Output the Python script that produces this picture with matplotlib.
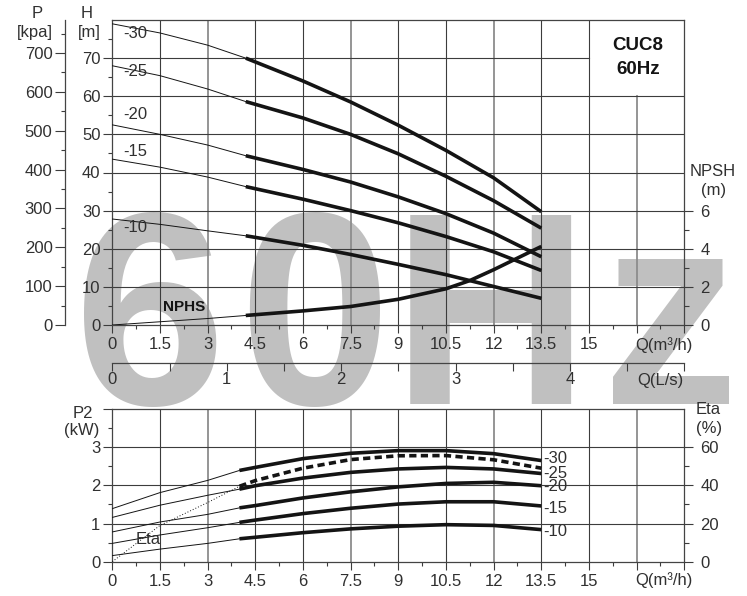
import numpy as np
import matplotlib.pyplot as plt
from matplotlib.ticker import FixedLocator, FuncFormatter

plt.rcParams['font.family'] = ['Liberation Sans', 'DejaVu Sans']

# ---- top chart: head H (m) and NPSH (m) vs flow Q (m3/h)
q_top = [0, 1.5, 3, 4.2, 6, 7.5, 9, 10.5, 12, 13.5]
h_30 = [79.0, 76.6, 73.4, 70.0, 64.0, 58.5, 52.4, 45.8, 38.6, 29.7]
h_25 = [68.0, 65.4, 61.9, 58.6, 54.3, 50.0, 44.9, 39.0, 32.6, 25.4]
h_20 = [52.5, 50.0, 47.2, 44.4, 40.8, 37.5, 33.6, 29.2, 24.1, 17.9]
h_15 = [43.5, 41.4, 38.8, 36.3, 33.0, 30.0, 26.8, 23.2, 19.2, 14.3]
h_10 = [27.8, 26.4, 24.7, 23.4, 20.9, 18.5, 15.9, 13.2, 10.1, 7.0]
q_npsh = [0, 1.5, 3, 4.2, 6, 7.5, 9, 10.5, 11.25, 12, 13.5]
npsh = [0, 0.17, 0.34, 0.5, 0.74, 0.97, 1.35, 1.9, 2.33, 2.9, 4.12]
stages = ['-30', '-25', '-20', '-15', '-10']

# ---- bottom chart: shaft power P2 (kW) and efficiency (%)
q_bot = [0, 1.5, 3, 4, 4.5, 6, 7.5, 9, 10.5, 12, 13.5]
p_30 = [1.39, 1.81, 2.13, 2.39, 2.47, 2.70, 2.84, 2.91, 2.91, 2.83, 2.65]
p_25 = [1.16, 1.48, 1.74, 1.90, 1.99, 2.19, 2.34, 2.43, 2.47, 2.43, 2.31]
p_20 = [0.78, 1.04, 1.24, 1.41, 1.47, 1.67, 1.83, 1.96, 2.05, 2.08, 1.99]
p_15 = [0.48, 0.70, 0.89, 1.03, 1.09, 1.26, 1.40, 1.51, 1.57, 1.57, 1.46]
p_10 = [0.16, 0.33, 0.48, 0.60, 0.64, 0.76, 0.86, 0.93, 0.97, 0.95, 0.84]
eta = [0, 19, 31, 39.5, 42.5, 49, 53.5, 55.5, 55.6, 53.4, 49]

q_labels = ['0', '1.5', '3', '4.5', '6', '7.5', '9', '10.5', '12', '13.5', '15', '', '']

W, H = 747, 596
ink = '#141414'
dark = '#3c3c3c'
light = '#8c8c8c'
txt = '#303030'


def fx(px):
    return px / W


def fy(py):
    return 1 - py / H


fig = plt.figure(figsize=(W / 100, H / 100), dpi=100)

# watermark behind everything
for ch, cx in zip('60Hz', [150, 314, 491, 670]):
    fig.text(fx(cx), fy(404), ch, fontsize=197, fontweight='bold',
             color='#c0c0c0', ha='center', va='baseline', zorder=-5)

x0, x1 = 112.3, 684.3
ax = fig.add_axes([fx(x0), fy(325), (x1 - x0) / W, (325 - 20) / H])
axb = fig.add_axes([fx(x0), fy(561.7), (x1 - x0) / W, (561.7 - 409) / H])

for a in (ax, axb):
    a.set_facecolor('none')
    a.set_xlim(0, 18)
    for s in a.spines.values():
        s.set_color('#444444')
        s.set_linewidth(0.9)
    a.xaxis.set_major_locator(FixedLocator(np.arange(0, 18.1, 1.5)))
    a.xaxis.set_major_formatter(FuncFormatter(lambda v, p: q_labels[int(round(v / 1.5))]))
    a.xaxis.set_minor_locator(FixedLocator(np.arange(0.75, 18, 1.5)))
    a.tick_params(axis='x', which='major', direction='out', length=5.5, width=0.8,
                  pad=3, labelsize=12, color=dark, labelcolor=txt)
    a.tick_params(axis='x', which='minor', direction='out', length=3, width=0.8, color=dark)
    a.tick_params(axis='y', which='major', direction='out', length=6.5, width=0.8,
                  pad=2, labelsize=12, color=dark, labelcolor=txt)
    a.tick_params(axis='y', which='minor', direction='out', length=3, width=0.8, color=dark)
    for i, g in enumerate(np.arange(1.5, 17, 1.5)):
        c, lw = (light, 1.3) if i % 3 == 1 else (dark, 0.8)
        top = 0.75 if (a is ax and g > 16) else 1
        a.axvline(g, ymax=top, color=c, lw=lw, zorder=1)

# ---- top chart
ax.set_ylim(0, 80)
ax.yaxis.set_major_locator(FixedLocator(range(0, 71, 10)))
ax.yaxis.set_minor_locator(FixedLocator(range(5, 80, 10)))
for h in range(10, 71, 10):
    ax.axhline(h, xmax=15 / 18 if h == 70 else 1, color=dark, lw=0.8, zorder=1)

for vals in [h_30, h_25, h_20, h_15, h_10]:
    ax.plot(q_top[:4], vals[:4], color=ink, lw=0.7, zorder=3)
    ax.plot(q_top[3:], vals[3:], color=ink, lw=2.6, zorder=3, solid_capstyle='butt')

for lab, hy in zip(stages, [76.4, 66.4, 55.1, 45.4, 25.5]):
    ax.text(0.34, hy, lab, fontsize=12, color=txt, va='center', ha='left')
ax.text(1.6, 4.7, 'NPHS', fontsize=11, fontweight='bold', color=ink, va='center', ha='left')
ax.text(16.54, 73.3, 'CUC8', fontsize=13.5, fontweight='bold', color=ink, ha='center', va='center')
ax.text(16.54, 66.9, '60Hz', fontsize=13.5, fontweight='bold', color=ink, ha='center', va='center')

# pressure axis (kPa) left of head axis
sec = ax.secondary_yaxis((65 - x0) / (x1 - x0), functions=(lambda h: h * 9.81, lambda p: p / 9.81))
sec.yaxis.set_major_locator(FixedLocator(range(0, 701, 100)))
sec.yaxis.set_minor_locator(FixedLocator(range(50, 800, 100)))
sec.tick_params(axis='y', which='major', length=7, width=0.8, pad=2, labelsize=12,
                color=dark, labelcolor=txt)
sec.tick_params(axis='y', which='minor', length=3, width=0.8, color=dark)
for s in sec.spines.values():
    s.set_color('#444444')
    s.set_linewidth(0.9)

# flow in L/s below
secx = ax.secondary_xaxis(-38 / 305, functions=(lambda q: q / 3.6, lambda l: l * 3.6))
secx.xaxis.set_major_locator(FixedLocator(range(0, 6)))
secx.xaxis.set_major_formatter(FuncFormatter(lambda v, p: '' if v > 4.5 else f'{v:g}'))
secx.xaxis.set_minor_locator(FixedLocator(np.arange(0.5, 5, 1)))
secx.tick_params(axis='x', which='both', direction='out', length=5.5, width=0.8, pad=1,
                 labelsize=12, color=dark, labelcolor=txt)
for s in secx.spines.values():
    s.set_color('#444444')
    s.set_linewidth(0.9)

# NPSH on the right
axn = ax.twinx()
axn.set_ylim(0, 16)
for s in axn.spines.values():
    s.set_visible(False)
axn.yaxis.set_major_locator(FixedLocator([0, 2, 4, 6]))
axn.yaxis.set_minor_locator(FixedLocator([1, 3, 5]))
axn.tick_params(axis='y', which='major', length=6.5, width=0.8, pad=5, labelsize=12,
                color=dark, labelcolor=txt)
axn.tick_params(axis='y', which='minor', length=3.5, width=0.8, color=dark)
axn.plot(q_npsh[:4], npsh[:4], color=ink, lw=0.7)
axn.plot(q_npsh[3:], npsh[3:], color=ink, lw=2.6, solid_capstyle='butt')

# ---- bottom chart
axb.set_ylim(0, 4)
axb.yaxis.set_major_locator(FixedLocator(range(0, 5)))
axb.yaxis.set_major_formatter(FuncFormatter(lambda v, p: '' if v > 3.5 else f'{v:g}'))
axb.yaxis.set_minor_locator(FixedLocator(np.arange(0.5, 4, 1)))
for h in (1, 2, 3):
    axb.axhline(h, color=dark, lw=0.8, zorder=1)

for vals in [p_30, p_25, p_20, p_15, p_10]:
    axb.plot(q_bot[:4], vals[:4], color=ink, lw=0.7, zorder=3)
    axb.plot(q_bot[3:], vals[3:], color=ink, lw=2.6, zorder=3, solid_capstyle='butt')
for lab, py in zip(stages, [2.71, 2.32, 1.98, 1.40, 0.78]):
    axb.text(13.55, py, lab, fontsize=12, color=txt, va='center', ha='left')
axb.text(1.12, 0.57, 'Eta', fontsize=12, color=txt, va='center', ha='center')

axe = axb.twinx()
axe.set_ylim(0, 80)
for s in axe.spines.values():
    s.set_visible(False)
axe.yaxis.set_major_locator(FixedLocator([0, 20, 40, 60]))
axe.yaxis.set_minor_locator(FixedLocator([10, 30, 50]))
axe.tick_params(axis='y', which='major', length=6.5, width=0.8, pad=5, labelsize=12,
                color=dark, labelcolor=txt)
axe.tick_params(axis='y', which='minor', length=3.5, width=0.8, color=dark)
axe.plot(q_bot[:4], eta[:4], color=ink, lw=0.7, ls=(0, (1, 2)))
axe.plot(q_bot[3:], eta[3:], color=ink, lw=2.6, ls=(0, (2, 1.2)))

# axis titles
lab_kw = dict(fontsize=12, color=txt, ha='center', va='center')
fig.text(fx(37), fy(13), 'P', **lab_kw)
fig.text(fx(35), fy(33), '[kpa]', **lab_kw)
fig.text(fx(87), fy(13), 'H', **lab_kw)
fig.text(fx(89), fy(33), '[m]', **lab_kw)
fig.text(fx(713), fy(172), 'NPSH', **lab_kw)
fig.text(fx(714), fy(191), '(m)', **lab_kw)
fig.text(fx(83), fy(413), 'P2', **lab_kw)
fig.text(fx(82), fy(431), '(kW)', **lab_kw)
fig.text(fx(708), fy(410), 'Eta', **lab_kw)
fig.text(fx(709), fy(428), '(%)', **lab_kw)
fig.text(fx(693), fy(345), 'Q(m³/h)', fontsize=12, color=txt, ha='right', va='center')
fig.text(fx(683), fy(380), 'Q(L/s)', fontsize=12, color=txt, ha='right', va='center')
fig.text(fx(693), fy(580), 'Q(m³/h)', fontsize=12, color=txt, ha='right', va='center')

fig.savefig('out.png', dpi=100)
